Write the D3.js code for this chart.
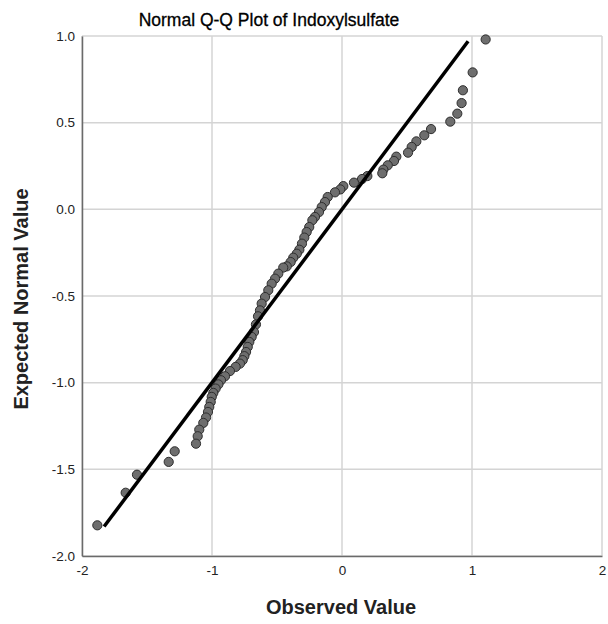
<!DOCTYPE html>
<html>
<head>
<meta charset="utf-8">
<script src="https://cdn.jsdelivr.net/npm/d3@7"></script>
<style>
body { margin: 0; background: #fff; }
svg { font-family: "Liberation Sans", Arial, sans-serif; }
.grid line { stroke: #d4d4d4; stroke-width: 1.5; }
</style>
</head>
<body>
<svg id="chart" width="608" height="624"></svg>
<script>
var observed = [1.105, 1.005, 0.93, 0.92, 0.887, 0.833, 0.685, 0.633, 0.572, 0.536, 0.508,
  0.418, 0.40, 0.352, 0.318, 0.31, 0.195, 0.154, 0.092, 0.01, -0.013, -0.054, -0.11,
  -0.131, -0.156, -0.177, -0.208, -0.228, -0.252, -0.272, -0.29, -0.308, -0.328, -0.348,
  -0.375, -0.395, -0.425, -0.452, -0.49, -0.515, -0.541, -0.567, -0.592, -0.618, -0.631,
  -0.646, -0.662, -0.677, -0.695, -0.713, -0.725, -0.738, -0.751, -0.764, -0.785, -0.818,
  -0.862, -0.9, -0.931, -0.951, -0.972, -0.99, -1.002, -1.01, -1.021, -1.031, -1.046,
  -1.067, -1.098, -1.11, -1.123, -1.287, -1.333, -1.577, -1.664, -1.882];
var expected = [0.98, 0.79, 0.687, 0.613, 0.552, 0.506, 0.463, 0.427, 0.392, 0.36, 0.327,
  0.304, 0.279, 0.254, 0.229, 0.208, 0.192, 0.175, 0.154, 0.134, 0.115, 0.098, 0.071,
  0.042, 0.013, -0.016, -0.044, -0.063, -0.102, -0.131, -0.163, -0.198, -0.233, -0.256,
  -0.279, -0.304, -0.329, -0.336, -0.371, -0.4, -0.429, -0.467, -0.506, -0.544, -0.583,
  -0.617, -0.664, -0.708, -0.736, -0.765, -0.794, -0.823, -0.847, -0.87, -0.89, -0.909,
  -0.933, -0.963, -0.986, -1.01, -1.034, -1.059, -1.082, -1.111, -1.14, -1.169, -1.201,
  -1.232, -1.271, -1.309, -1.352, -1.396, -1.457, -1.531, -1.635, -1.823];
var refLine = [-1.83, 0.97];   // y = x reference line ends
var xTicks = [-2, -1, 0, 1, 2];
var yTicks = [-2.0, -1.5, -1.0, -0.5, 0.0, 0.5, 1.0];

var svg = d3.select("#chart"),
    margin = {top: 36, right: 6, bottom: 68, left: 82},
    width = +svg.attr("width") - margin.left - margin.right,
    height = +svg.attr("height") - margin.top - margin.bottom,
    g = svg.append("g").attr("transform", "translate(" + margin.left + "," + margin.top + ")");

var x = d3.scaleLinear().domain([-2, 2]).range([0, width]);
var y = d3.scaleLinear().domain([-2, 1]).range([height, 0]);

// plain hyphen for negatives, like the original
function fmt(spec) {
  var f = d3.format(spec);
  return function(d) { return f(d).replace("\u2212", "-"); };
}

// gridlines
g.append("g").attr("class", "grid")
  .selectAll("line").data(xTicks).enter().append("line")
  .attr("x1", function(d) { return x(d); }).attr("x2", function(d) { return x(d); })
  .attr("y1", 0).attr("y2", height);
g.append("g").attr("class", "grid")
  .selectAll("line").data(yTicks).enter().append("line")
  .attr("y1", function(d) { return y(d); }).attr("y2", function(d) { return y(d); })
  .attr("x1", 0).attr("x2", width);

// axes
var xAxis = g.append("g")
  .attr("transform", "translate(0," + height + ")")
  .call(d3.axisBottom(x).tickValues(xTicks).tickFormat(fmt("d")).tickSize(0).tickPadding(8));
var yAxis = g.append("g")
  .call(d3.axisLeft(y).tickValues(yTicks).tickFormat(fmt(".1f")).tickSize(0).tickPadding(7));
svg.selectAll(".domain").attr("stroke", "#6a6a6a").attr("stroke-width", 1.5);
svg.selectAll(".tick text")
  .attr("font-family", "Liberation Sans, Arial, sans-serif")
  .attr("font-size", "13.5px").attr("fill", "#222");
xAxis.selectAll(".tick text").attr("dy", "0.8em");

// points
g.append("g").selectAll("circle")
  .data(d3.range(observed.length)).enter().append("circle")
  .attr("cx", function(i) { return x(observed[i]); })
  .attr("cy", function(i) { return y(expected[i]); })
  .attr("r", 4.6)
  .attr("fill", "#6e6e6e")
  .attr("stroke", "#2e2e2e")
  .attr("stroke-width", 1);

// reference line
g.append("line")
  .attr("x1", x(refLine[0])).attr("y1", y(refLine[0]))
  .attr("x2", x(refLine[1])).attr("y2", y(refLine[1]))
  .attr("stroke", "#000").attr("stroke-width", 3.5);

// titles
svg.append("text")
  .attr("x", 269).attr("y", 26)
  .attr("text-anchor", "middle")
  .attr("font-size", "17.5px").attr("fill", "#000")
  .attr("stroke", "#000").attr("stroke-width", 0.3)
  .text("Normal Q-Q Plot of Indoxylsulfate");

svg.append("text")
  .attr("x", 341).attr("y", 614)
  .attr("text-anchor", "middle")
  .attr("font-size", "20px").attr("font-weight", "bold").attr("fill", "#222")
  .text("Observed Value");

svg.append("text")
  .attr("transform", "translate(28,299) rotate(-90)")
  .attr("text-anchor", "middle")
  .attr("font-size", "20px").attr("font-weight", "bold").attr("fill", "#222")
  .text("Expected Normal Value");
</script>
</body>
</html>
